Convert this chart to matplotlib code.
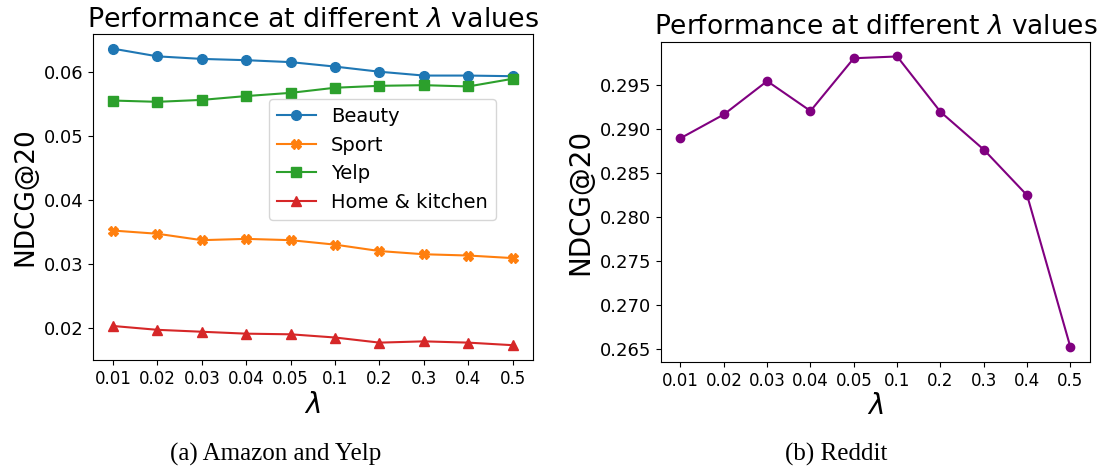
import matplotlib
matplotlib.use("Agg")
import matplotlib.pyplot as plt

# ==============================
# Data
# ==============================

lambdas = ["0.01", "0.02", "0.03", "0.04", "0.05", "0.1", "0.2", "0.3", "0.4", "0.5"]

beauty = [0.0636, 0.0624, 0.0620, 0.0618, 0.0615, 0.0608, 0.0600, 0.0594, 0.0594, 0.0593]
sport = [0.0352, 0.0347, 0.0337, 0.0339, 0.0337, 0.0330, 0.0320, 0.0315, 0.0313, 0.0309]
yelp = [0.0555, 0.0553, 0.0556, 0.0562, 0.0567, 0.0575, 0.0578, 0.0579, 0.0577, 0.0589]
home = [0.0203, 0.0197, 0.0194, 0.0191, 0.0190, 0.0185, 0.0177, 0.0179, 0.0177, 0.0173]

reddit = [0.2890, 0.2917, 0.2955, 0.2921, 0.2981, 0.2983, 0.2920, 0.2877, 0.2825, 0.2652]

x = list(range(len(lambdas)))

fig = plt.figure(figsize=(11.02, 4.70), dpi=100)

# ==============================
# (a) Amazon and Yelp
# ==============================

ax1 = fig.add_axes([0.0844, 0.234, 0.399, 0.694])
ax1.plot(x, beauty, color="#1f77b4", marker="o", markersize=7, linewidth=1.5, label="Beauty")
ax1.plot(x, sport, color="#ff7f0e", marker="X", markersize=7, linewidth=1.5, label="Sport")
ax1.plot(x, yelp, color="#2ca02c", marker="s", markersize=7, linewidth=1.5, label="Yelp")
ax1.plot(x, home, color="#d62728", marker="^", markersize=7, linewidth=1.5, label="Home & kitchen")

ax1.set_xticks(x)
ax1.set_xticklabels(lambdas)
ax1.tick_params(axis="x", labelsize=12)
ax1.tick_params(axis="y", labelsize=13)
ax1.set_yticks([0.02, 0.03, 0.04, 0.05, 0.06])
ax1.set_xlabel(r"$\lambda$", fontsize=20, labelpad=2)
ax1.set_ylabel("NDCG@20", fontsize=19)
ax1.set_title(r"Performance at different $\lambda$ values", fontsize=19.4, pad=5)
ax1.legend(fontsize=14, loc="upper left", bbox_to_anchor=(0.40, 0.80), borderaxespad=0)

# ==============================
# (b) Reddit
# ==============================

ax2 = fig.add_axes([0.5998, 0.2298, 0.3893, 0.681])
ax2.plot(x, reddit, color="purple", marker="o", markersize=6, linewidth=1.5)

ax2.set_xticks(x)
ax2.set_xticklabels(lambdas)
ax2.tick_params(axis="x", labelsize=12)
ax2.tick_params(axis="y", labelsize=13)
ax2.set_yticks([0.265, 0.270, 0.275, 0.280, 0.285, 0.290, 0.295])
ax2.set_yticklabels(["0.265", "0.270", "0.275", "0.280", "0.285", "0.290", "0.295"])
ax2.set_xlabel(r"$\lambda$", fontsize=20, labelpad=2)
ax2.set_ylabel("NDCG@20", fontsize=20)
ax2.set_title(r"Performance at different $\lambda$ values", fontsize=19, pad=6)

# Sub-captions
fig.text(0.250, 0.034, "(a) Amazon and Yelp", fontsize=18, family="Liberation Serif", ha="center", va="center")
fig.text(0.759, 0.034, "(b) Reddit", fontsize=18, family="Liberation Serif", ha="center", va="center")

fig.savefig("out.png", dpi=100)
